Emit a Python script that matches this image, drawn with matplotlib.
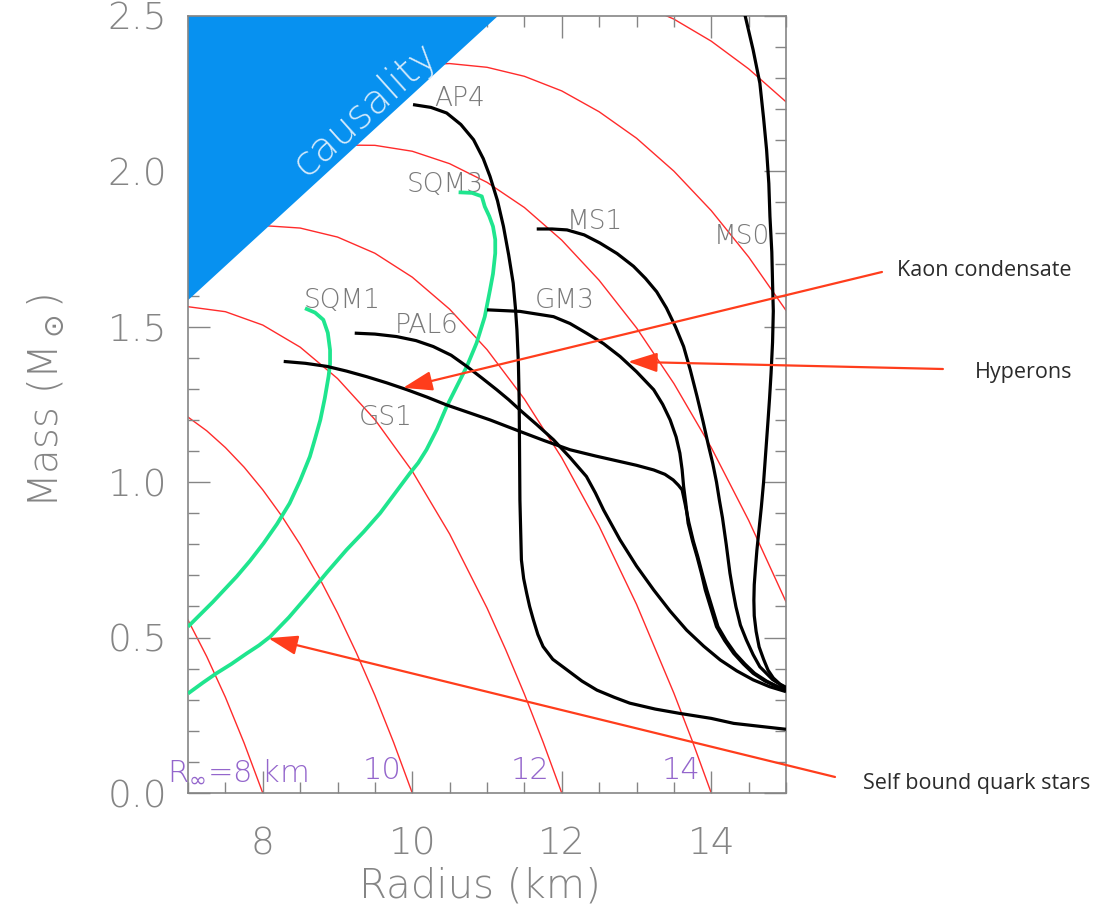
"""
Neutron-star mass-radius relations for several equations of state,
with iso-R_inf contours and the causality limit (recreated figure).
"""

import matplotlib

matplotlib.use("Agg")
import matplotlib.pyplot as plt
from matplotlib.ticker import MultipleLocator

# ---- data (R in km, M in solar masses) ----

CAUSAL_R = [7.0, 11.15, 7.0]
CAUSAL_M = [1.585, 2.5, 2.5]

# iso-R_inf contours, keyed by R_inf (km)
RINF_8_R = [7.0, 7.25, 7.5, 7.75, 8.0]
RINF_8_M = [0.556, 0.439, 0.308, 0.161, 0.0]
RINF_10_R = [7.0, 7.25, 7.5, 7.75, 8.0, 8.25, 8.5, 8.75, 9.0, 9.25, 9.5, 9.75, 10.0]
RINF_10_M = [1.209, 1.165, 1.111, 1.048, 0.975, 0.892, 0.799, 0.695, 0.579,
             0.452, 0.314, 0.163, 0.0]
RINF_12_R = [7.0, 7.5, 8.0, 8.5, 9.0, 9.5, 10.0, 10.5, 11.0, 11.25, 11.5, 11.75, 12.0]
RINF_12_M = [1.564, 1.548, 1.505, 1.434, 1.333, 1.201, 1.035, 0.833, 0.595,
             0.461, 0.318, 0.164, 0.0]
RINF_14_R = [7.0, 7.5, 8.0, 8.5, 9.0, 9.5, 10.0, 10.5, 11.0, 11.5, 12.0, 12.5,
             13.0, 13.5, 13.75, 14.0]
RINF_14_M = [1.778, 1.811, 1.825, 1.817, 1.788, 1.736, 1.659, 1.556, 1.426, 1.267,
             1.078, 0.858, 0.607, 0.321, 0.165, 0.0]
RINF_16_R = [7.0, 7.5, 8.0, 8.5, 9.0, 9.5, 10.0, 10.5, 11.0, 11.5, 12.0, 12.5,
             13.0, 13.5, 14.0, 14.5, 15.0]
RINF_16_M = [1.916, 1.982, 2.032, 2.066, 2.084, 2.083, 2.064, 2.024, 1.964, 1.883,
             1.778, 1.649, 1.496, 1.317, 1.111, 0.877, 0.615]
RINF_18_R = [7.0, 7.5, 8.0, 8.5, 9.0, 9.5, 10.0, 10.5, 11.0, 11.5, 12.0, 12.5,
             13.0, 13.5, 14.0, 14.5, 15.0]
RINF_18_M = [2.012, 2.099, 2.174, 2.237, 2.286, 2.321, 2.341, 2.346, 2.334, 2.305,
             2.258, 2.191, 2.106, 2.000, 1.873, 1.724, 1.552]
RINF_20_R = [10.0, 10.5, 11.0, 11.5, 12.0, 12.5, 13.0, 13.5, 14.0, 14.5, 15.0]
RINF_20_M = [2.540, 2.576, 2.598, 2.607, 2.601, 2.580, 2.542, 2.489, 2.418, 2.329, 2.223]

RINF_LABELS = ["10", "12", "14"]
RINF_LABEL_AT = [9.86, 11.84, 13.85]

# strange quark matter (self bound) stars
SQM1_R = [8.565, 8.70, 8.81, 8.87, 8.90, 8.90, 8.88, 8.83, 8.77, 8.70, 8.63,
          8.50, 8.36, 8.19, 8.01, 7.83, 7.65, 7.33, 7.0]
SQM1_M = [1.559, 1.545, 1.522, 1.48, 1.425, 1.38, 1.34, 1.27, 1.20, 1.14, 1.082,
          1.005, 0.932, 0.865, 0.803, 0.747, 0.696, 0.614, 0.535]
SQM3_R = [10.62, 10.80, 10.93, 10.97, 11.03, 11.08, 11.11, 11.11, 11.08, 11.04,
          10.97, 10.86, 10.73, 10.60, 10.46, 10.33, 10.19, 10.08, 9.97, 9.57,
          9.35, 9.12, 8.86, 8.59, 8.35, 8.10, 7.95, 7.785, 7.58, 7.38, 7.2, 7.0]
SQM3_M = [1.932, 1.930, 1.919, 1.886, 1.855, 1.822, 1.78, 1.736, 1.67, 1.618,
          1.532, 1.447, 1.372, 1.31, 1.243, 1.17, 1.104, 1.062, 1.029, 0.900,
          0.84, 0.782, 0.71, 0.632, 0.565, 0.503, 0.475, 0.449, 0.415, 0.385,
          0.355, 0.32]

# normal-matter equations of state
AP4_R = [10.01, 10.25, 10.46, 10.65, 10.82, 10.95, 11.04, 11.14, 11.22, 11.29,
         11.35, 11.38, 11.40, 11.42, 11.43, 11.44, 11.46, 11.49, 11.53, 11.57,
         11.62, 11.68, 11.75, 11.88, 12.07, 12.27, 12.47, 12.70, 12.91, 13.25,
         13.58, 14.0, 14.30, 15.0]
AP4_M = [2.214, 2.205, 2.187, 2.150, 2.101, 2.040, 1.983, 1.905, 1.822, 1.730,
         1.640, 1.56, 1.490, 1.38, 1.264, 0.942, 0.750, 0.69, 0.643, 0.60,
         0.557, 0.51, 0.471, 0.43, 0.396, 0.36, 0.331, 0.308, 0.289, 0.270,
         0.256, 0.240, 0.224, 0.205]
PAL6_R = [9.23, 9.5, 9.79, 10.05, 10.28, 10.52, 10.73, 10.93, 11.13, 11.29, 11.44,
          11.66, 11.89, 12.11, 12.33, 12.45, 12.56, 12.67, 12.78, 13.0, 13.23,
          13.45, 13.67, 13.9, 14.12, 14.34, 14.56, 14.78, 15.0]
PAL6_M = [1.479, 1.476, 1.468, 1.455, 1.436, 1.408, 1.372, 1.335, 1.297, 1.265,
          1.232, 1.186, 1.136, 1.079, 1.018, 0.965, 0.910, 0.862, 0.814, 0.73,
          0.653, 0.585, 0.524, 0.472, 0.428, 0.393, 0.364, 0.342, 0.326]
GS1_R = [8.28, 8.57, 8.86, 9.12, 9.39, 9.66, 9.93, 10.2, 10.46, 10.75, 11.04,
         11.44, 11.77, 12.11, 12.45, 12.78, 13.0, 13.23, 13.38, 13.49, 13.56,
         13.61, 13.65, 13.70, 13.76, 13.82, 13.88, 13.94, 14.02, 14.09, 14.20,
         14.32, 14.45, 14.58, 14.74, 14.89, 15.0]
GS1_M = [1.388, 1.382, 1.372, 1.357, 1.339, 1.319, 1.297, 1.273, 1.248, 1.224,
         1.200, 1.163, 1.133, 1.104, 1.084, 1.066, 1.054, 1.039, 1.025, 1.007,
         0.99, 0.975, 0.93, 0.870, 0.81, 0.760, 0.705, 0.653, 0.59, 0.535, 0.49,
         0.449, 0.415, 0.385, 0.36, 0.342, 0.333]
GM3_R = [11.0, 11.44, 11.89, 12.11, 12.33, 12.56, 12.78, 13.0, 13.23, 13.35,
         13.45, 13.53, 13.58, 13.61, 13.63, 13.66, 13.69, 13.75, 13.81, 13.87,
         13.92, 14.0, 14.07, 14.18, 14.30, 14.43, 14.56, 14.72, 14.88, 15.0]
GM3_M = [1.554, 1.549, 1.532, 1.51, 1.479, 1.445, 1.404, 1.355, 1.297, 1.25,
         1.200, 1.145, 1.093, 1.04, 0.986, 0.93, 0.868, 0.81, 0.760, 0.705,
         0.653, 0.59, 0.535, 0.49, 0.449, 0.415, 0.385, 0.36, 0.342, 0.331]
MS1_R = [11.665, 11.87, 12.07, 12.3, 12.51, 12.74, 12.96, 13.12, 13.27, 13.40,
         13.52, 13.63, 13.72, 13.81, 13.89, 13.96, 14.02, 14.07, 14.11, 14.15,
         14.20, 14.25, 14.29, 14.33, 14.39, 14.47, 14.56, 14.65, 14.82, 15.0]
MS1_M = [1.814, 1.814, 1.811, 1.795, 1.769, 1.735, 1.694, 1.655, 1.612, 1.560,
         1.500, 1.436, 1.36, 1.275, 1.195, 1.120, 1.06, 1.000, 0.94, 0.885,
         0.80, 0.707, 0.65, 0.599, 0.54, 0.492, 0.445, 0.406, 0.365, 0.337]
MS0_R = [14.40, 14.45, 14.56, 14.65, 14.70, 14.74, 14.77, 14.785, 14.81, 14.82,
         14.83, 14.82, 14.80, 14.78, 14.76, 14.73, 14.70, 14.67, 14.64, 14.61,
         14.59, 14.575, 14.57, 14.575, 14.60, 14.64, 14.70, 14.76, 14.83, 14.92,
         15.0]
MS0_M = [2.60, 2.503, 2.39, 2.283, 2.17, 2.069, 1.96, 1.854, 1.74, 1.64,
         1.55, 1.45, 1.35, 1.27, 1.20, 1.10, 1.00, 0.92, 0.85, 0.78,
         0.72, 0.67, 0.62, 0.57, 0.52, 0.47, 0.43, 0.395, 0.37, 0.35,
         0.34]

# curve labels: text, R, M (left edge, baseline)
EOS_LABELS = ["AP4", "SQM3", "SQM1", "PAL6", "GS1", "GM3", "MS1", "MS0"]
EOS_LABEL_R = [10.30, 9.93, 8.55, 9.77, 9.28, 11.64, 12.07, 14.03]
EOS_LABEL_M = [2.210, 1.932, 1.559, 1.479, 1.184, 1.559, 1.814, 1.766]

# annotations: text, arrow tip (R, M), line start / text pos (figure fraction)
NOTES = ["Kaon condensate", "Hyperons", "Self bound quark stars"]
NOTE_TIP_R = [9.876, 12.886, 8.074]
NOTE_TIP_M = [1.303, 1.387, 0.498]
NOTE_TAIL = [(0.796, 0.7034), (0.851, 0.5976), (0.7536, 0.1527)]
NOTE_TEXT = [(0.8096, 0.7045), (0.880, 0.594), (0.7789, 0.1461)]

BLUE = "#0791f0"
GREEN = "#1fe58e"
RED = "#ff2b2b"
ARROW = "#ff3d1c"
PURPLE = "#9466cc"
GRAY = "#858585"


def main() -> None:
    fig = plt.figure(figsize=(11.08, 9.17), dpi=100)
    ax = fig.add_axes([0.1697, 0.1352, 0.5397, 0.8477])

    rinf = [
        (RINF_8_R, RINF_8_M), (RINF_10_R, RINF_10_M), (RINF_12_R, RINF_12_M),
        (RINF_14_R, RINF_14_M), (RINF_16_R, RINF_16_M), (RINF_18_R, RINF_18_M),
        (RINF_20_R, RINF_20_M),
    ]
    for r, m in rinf:
        ax.plot(r, m, color=RED, lw=1.0, zorder=1)

    ax.fill(CAUSAL_R, CAUSAL_M, color=BLUE, lw=0, zorder=2)
    ax.text(9.37, 2.20, "causality", rotation=42, color="#d6ebfc", fontsize=29,
            ha="center", va="center", zorder=3, fontweight="light")

    # labels sit under the curves (the reference draws lines over them)
    for txt, r, m in zip(EOS_LABELS, EOS_LABEL_R, EOS_LABEL_M):
        ax.text(r, m, txt, color="#7a7a7a", fontsize=19, ha="left",
                va="baseline", zorder=3, fontweight="light")

    for r, m in [(SQM1_R, SQM1_M), (SQM3_R, SQM3_M)]:
        ax.plot(r, m, color=GREEN, lw=2.7, zorder=4, solid_capstyle="butt",
                solid_joinstyle="round")
    for r, m in [(AP4_R, AP4_M), (PAL6_R, PAL6_M), (GS1_R, GS1_M),
                 (GM3_R, GM3_M), (MS1_R, MS1_M), (MS0_R, MS0_M)]:
        ax.plot(r, m, color="black", lw=2.3, zorder=4, solid_capstyle="butt",
                solid_joinstyle="round")

    # R_inf labels along the bottom
    ax.text(6.72, 0.045, r"R$_\infty$=8 km", color=PURPLE, fontsize=22,
            ha="left", va="baseline", zorder=5, clip_on=False,
            fontweight="light")
    for txt, r in zip(RINF_LABELS, RINF_LABEL_AT):
        ax.text(r, 0.045, txt, color=PURPLE, fontsize=22, ha="right",
                va="baseline", zorder=5, fontweight="light")

    ax.set_xlim(7, 15)
    ax.set_ylim(0, 2.5)
    ax.xaxis.set_major_locator(MultipleLocator(2))
    ax.xaxis.set_minor_locator(MultipleLocator(0.5))
    ax.yaxis.set_major_locator(MultipleLocator(0.5))
    ax.yaxis.set_minor_locator(MultipleLocator(0.1))
    ax.yaxis.set_major_formatter(plt.FormatStrFormatter("%.1f"))
    ax.tick_params(which="both", direction="in", top=True, right=True,
                   color=GRAY, width=1.0, labelcolor=GRAY, labelsize=27)
    ax.tick_params(which="major", length=16)
    ax.tick_params(which="minor", length=8)
    ax.tick_params(axis="x", which="major", pad=24)
    ax.tick_params(axis="y", which="major", pad=15)
    for spine in ax.spines.values():
        spine.set_edgecolor(GRAY)
        spine.set_linewidth(1.2)
    for lab in ax.get_xticklabels() + ax.get_yticklabels():
        lab.set_fontweight("light")

    ax.set_xlabel("Radius (km)", fontsize=29, color=GRAY, fontweight="light")
    ax.set_ylabel(r"Mass (M$_\odot$)", fontsize=29, color=GRAY, fontweight="light")
    ax.xaxis.set_label_coords(0.488, -0.12)
    ax.xaxis.label.set_va("center")
    ax.yaxis.set_label_coords(-0.239, 0.505)
    ax.yaxis.label.set_va("center")

    for txt, tr, tm, tail, pos in zip(NOTES, NOTE_TIP_R, NOTE_TIP_M,
                                      NOTE_TAIL, NOTE_TEXT):
        ax.annotate(
            "", xy=(tr, tm), xycoords="data",
            xytext=tail, textcoords="figure fraction",
            arrowprops=dict(arrowstyle="-|>,head_length=0.9,head_width=0.3",
                            color=ARROW, lw=1.6, mutation_scale=20,
                            shrinkA=0, shrinkB=0),
            zorder=6, annotation_clip=False,
        )
        fig.text(pos[0], pos[1], txt, fontsize=15.5, color="#2b2b2b",
                 ha="left", va="center", family=["Open Sans", "DejaVu Sans"])

    fig.savefig("out.png", dpi=100)
    plt.close(fig)


if __name__ == "__main__":
    main()
